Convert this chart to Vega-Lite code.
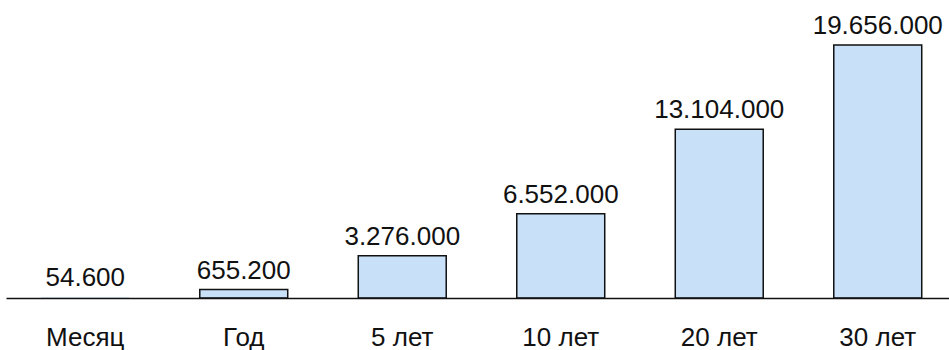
{
  "$schema": "https://vega.github.io/schema/vega-lite/v6.json",
  "width": 951,
  "height": 253,
  "autosize": {"type": "none"},
  "padding": {"left": 6, "top": 45, "right": 0, "bottom": 52},
  "config": {
    "view": {"stroke": null},
    "locale": {"number": {"decimal": ",", "thousands": ".", "grouping": [3], "currency": ["", ""]}},
    "font": "Liberation Sans"
  },
  "data": {
    "values": [
      {"period": "Месяц", "amount": 54600},
      {"period": "Год", "amount": 655200},
      {"period": "5 лет", "amount": 3276000},
      {"period": "10 лет", "amount": 6552000},
      {"period": "20 лет", "amount": 13104000},
      {"period": "30 лет", "amount": 19656000}
    ]
  },
  "encoding": {
    "x": {
      "field": "period",
      "type": "nominal",
      "sort": null,
      "scale": {"paddingInner": 0.445, "paddingOuter": 0.2225},
      "axis": {
        "title": null,
        "ticks": false,
        "labelAngle": 0,
        "labelFontSize": 26,
        "labelColor": "#111111",
        "labelBaseline": "alphabetic",
        "labelPadding": 47,
        "domainColor": "#111111",
        "domainWidth": 1.5,
        "labelFont": "Liberation Sans",
        "zindex": 1
      }
    },
    "y": {
      "field": "amount",
      "type": "quantitative",
      "scale": {"domain": [0, 19656000], "nice": false, "zero": true},
      "axis": null
    }
  },
  "layer": [
    {
      "mark": {"type": "bar", "fill": "#c8e0f8", "stroke": "#111111", "strokeWidth": 1.5},
      "encoding": {
        "strokeOpacity": {"condition": {"test": "datum.amount < 100000", "value": 0}, "value": 1}
      }
    },
    {
      "mark": {"type": "text", "baseline": "alphabetic", "dy": -11, "fontSize": 26, "color": "#111111", "font": "Liberation Sans"},
      "encoding": {
        "text": {"field": "amount", "type": "quantitative", "format": ",d"}
      }
    }
  ]
}
